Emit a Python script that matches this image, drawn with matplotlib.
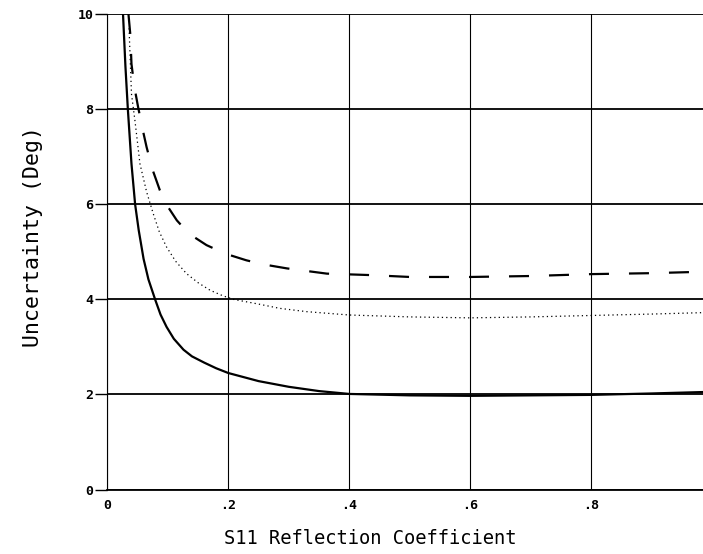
import matplotlib
matplotlib.use("Agg")
from matplotlib import pyplot as plt

# values
solidX = [0.026, 0.030, 0.034, 0.040, 0.046, 0.052, 0.060, 0.068, 0.079, 0.088, 0.098,
          0.110, 0.126, 0.140, 0.160, 0.180, 0.200, 0.250, 0.300, 0.350, 0.400,
          0.500, 0.600, 0.700, 0.800, 0.900, 0.985]
solidY = [10.0, 8.9, 8.0, 6.85, 6.0, 5.45, 4.85, 4.42, 4.0, 3.68, 3.42,
          3.17, 2.94, 2.80, 2.67, 2.55, 2.45, 2.28, 2.16, 2.07, 2.01,
          1.98, 1.97, 1.98, 1.99, 2.02, 2.05]

dottedX = [0.036, 0.040, 0.046, 0.054, 0.065, 0.076, 0.086, 0.098, 0.113, 0.131, 0.150,
           0.170, 0.190, 0.208, 0.250, 0.285, 0.330, 0.400, 0.500, 0.600, 0.700,
           0.800, 0.900, 0.985]
dottedY = [9.7, 8.32, 7.73, 6.85, 6.26, 5.80, 5.42, 5.10, 4.80, 4.54, 4.35,
           4.19, 4.08, 4.0, 3.90, 3.81, 3.74, 3.67, 3.63, 3.61, 3.63,
           3.66, 3.69, 3.72]

dashedX = [0.035, 0.038, 0.040, 0.045, 0.051, 0.058, 0.065, 0.075, 0.087, 0.100, 0.115,
           0.135, 0.164, 0.195, 0.230, 0.260, 0.297, 0.363, 0.434, 0.500, 0.569,
           0.600, 0.700, 0.800, 0.900, 0.985]
dashedY = [10.0, 9.58, 8.95, 8.45, 8.04, 7.6, 7.2, 6.72, 6.29, 5.95, 5.66,
           5.38, 5.14, 4.96, 4.82, 4.73, 4.65, 4.54, 4.51, 4.47, 4.47,
           4.47, 4.49, 4.53, 4.55, 4.58]

xTicks = [0, 0.2, 0.4, 0.6, 0.8, 1.0]
xTickLabels = ['0', '.2', '.4', '.6', '.8', '']
yTicks = [0, 2, 4, 6, 8, 10]
yTickLabels = ['0', '2', '4', '6', '8', '10']

fig = plt.figure(figsize=(7.03, 5.54), dpi=100)
ax = fig.add_axes([0.1526, 0.1164, 0.8606, 0.8583])
ax.set_xlim(0, 1.0)
ax.set_ylim(0, 10)

for x in xTicks:
    ax.axvline(x, color='black', lw=0.8, zorder=1)
for y in yTicks:
    ax.axhline(y, color='black', lw=1.3, zorder=1)

ax.plot(solidX, solidY, color='black', lw=1.6, zorder=3)
ax.plot(dottedX, dottedY, color='black', lw=0.9, linestyle=(0, (1, 2.5)), zorder=3)
ax.plot(dashedX, dashedY, color='black', lw=1.6, dashes=(9, 9), zorder=3)

for side in ['top', 'right']:
    ax.spines[side].set_visible(False)
ax.spines['left'].set_linewidth(0.8)
ax.spines['bottom'].set_linewidth(1.3)

tickFont = {'family': 'DejaVu Sans Mono', 'weight': 'bold', 'size': 9.5}
ax.set_xticks(xTicks)
ax.set_xticklabels(xTickLabels, fontdict=tickFont)
ax.set_yticks(yTicks)
ax.set_yticklabels(yTickLabels, fontdict=tickFont)
ax.tick_params(axis='x', length=0, pad=7)
ax.tick_params(axis='y', length=9, width=1.0, pad=1)

fig.text(0.527, 0.028, 'S11 Reflection Coefficient', ha='center', va='center',
         family='DejaVu Sans Mono', fontsize=13.5)
fig.text(0.047, 0.574, 'Uncertainty (Deg)', ha='center', va='center', rotation=90,
         family='DejaVu Sans Mono', fontsize=15.5)

fig.savefig('out.png', dpi=100)
